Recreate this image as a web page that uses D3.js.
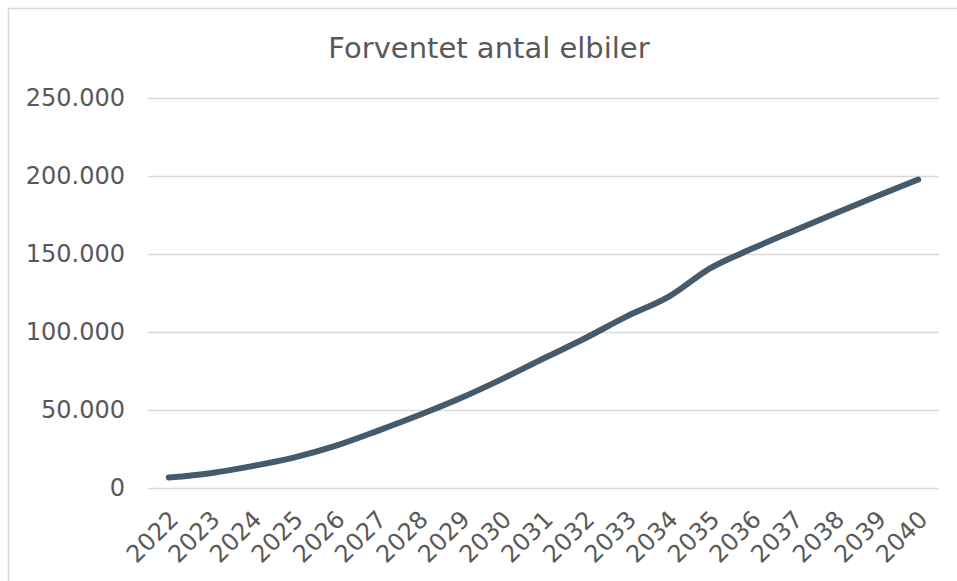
<!DOCTYPE html>
<html>
<head>
<meta charset="utf-8">
<script src="https://cdn.jsdelivr.net/npm/d3@7"></script>
<style>
  body { margin: 0; background: #fff; }
  svg { display: block; font-family: "DejaVu Sans", Verdana, sans-serif; }
</style>
</head>
<body>
<svg id="chart" width="957" height="581"></svg>
<script>
var title = "Forventet antal elbiler";
var years = ["2022","2023","2024","2025","2026","2027","2028","2029","2030","2031",
             "2032","2033","2034","2035","2036","2037","2038","2039","2040"];
var elbiler = [6700, 9500, 14000, 19500, 27000, 36500, 46600, 57500, 69800, 83000,
               96000, 110000, 122500, 140800, 153300, 164800, 176000, 187000, 197700];
var yTicks = [0, 50000, 100000, 150000, 200000, 250000];

var w = 957, h = 581;
var margin = { left: 148, right: 18, top: 98, bottom: 93 };

var svg = d3.select("#chart");

// chart frame (runs off the right and bottom edge)
svg.append("rect")
  .attr("x", 8.5).attr("y", 8.5)
  .attr("width", 990).attr("height", 620)
  .attr("fill", "white")
  .attr("stroke", "#d9d9d9")
  .attr("stroke-width", 1.5);

var x = d3.scaleBand()
  .domain(years)
  .range([margin.left, w - margin.right])
  .padding(0);

var y = d3.scaleLinear()
  .domain([0, 250000])
  .range([h - margin.bottom, margin.top]);

var fmt = function(d) { return d3.format(",")(d).replace(/,/g, "."); };

// gridlines + y labels
var yAxis = d3.axisLeft(y)
  .tickValues(yTicks)
  .tickSize(-(w - margin.right - margin.left))
  .tickPadding(23)
  .tickFormat(fmt);

var gy = svg.append("g")
  .attr("transform", "translate(" + margin.left + ",0)")
  .call(yAxis);
gy.select(".domain").remove();
gy.selectAll(".tick line").attr("stroke", "#d9d9d9").attr("stroke-width", 1.5);
gy.selectAll(".tick text")
  .attr("fill", "#595959")
  .attr("font-size", 24)
  .attr("font-family", "DejaVu Sans, Verdana, sans-serif");

// x labels, rotated
var xAxis = d3.axisBottom(x).tickSize(0).tickPadding(0);
var gx = svg.append("g")
  .attr("transform", "translate(0," + (h - margin.bottom) + ")")
  .call(xAxis);
gx.select(".domain").remove();
gx.selectAll(".tick text")
  .attr("fill", "#595959")
  .attr("font-size", 24)
  .attr("font-family", "DejaVu Sans, Verdana, sans-serif")
  .attr("text-anchor", "end")
  .attr("dy", "0.35em")
  .attr("y", 0)
  .attr("transform", "translate(5,27) rotate(-45)");

// the line
var line = d3.line()
  .x(function(d, i) { return x(years[i]) + x.bandwidth() / 2; })
  .y(function(d) { return y(d); })
  .curve(d3.curveMonotoneX);

svg.append("path")
  .datum(elbiler)
  .attr("fill", "none")
  .attr("stroke", "#455a6a")
  .attr("stroke-width", 6)
  .attr("stroke-linecap", "round")
  .attr("stroke-linejoin", "round")
  .attr("d", line);

// title
svg.append("text")
  .attr("x", 489)
  .attr("y", 58)
  .attr("text-anchor", "middle")
  .attr("fill", "#595959")
  .attr("font-size", 29)
  .text(title);
</script>
</body>
</html>
